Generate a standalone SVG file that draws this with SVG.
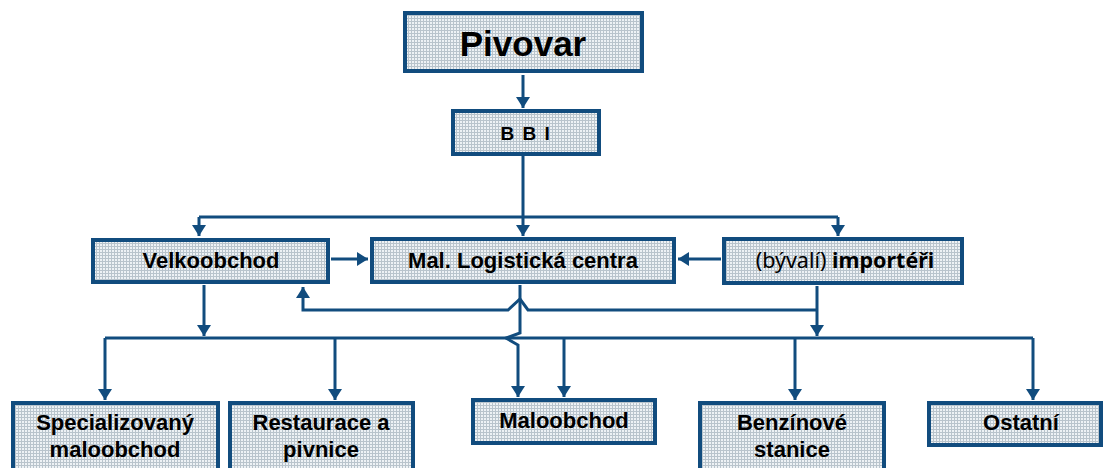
<svg xmlns="http://www.w3.org/2000/svg" width="1104" height="468" viewBox="0 0 1104 468">
<defs>
<pattern id="dots" width="3" height="3" patternUnits="userSpaceOnUse">
<rect width="3" height="3" fill="#eef2f5"/>
<rect width="3" height="1" fill="#b9c4cc"/>
<rect width="1" height="3" fill="#b9c4cc"/>
</pattern>
<marker id="arr" markerUnits="userSpaceOnUse" markerWidth="12" markerHeight="14" refX="11" refY="7" orient="auto">
<path d="M0,0 L11,7 L0,14 z" fill="#114c7e"/>
</marker>
</defs>
<style>
.box{fill:url(#dots);stroke:#114c7e;stroke-width:4}
.t{font-family:"Liberation Sans",Arial,sans-serif;font-weight:bold;fill:#000;text-anchor:middle;font-size:22px}
.c{fill:none;stroke:#114c7e;stroke-width:3}
.a{marker-end:url(#arr)}
</style>
<g id="connectors">
<path class="c a" d="M523,75 V108"/>
<path class="c" d="M523,156 V217 M199,217 H838"/>
<path class="c a" d="M199,217 V236"/>
<path class="c a" d="M523,217 V236"/>
<path class="c a" d="M838,217 V236"/>
<path class="c a" d="M331,259 H368"/>
<path class="c a" d="M721,259 H678"/>
<path class="c a" d="M204,285 V336"/>
<path class="c a" d="M817,286 V336"/>
<path class="c" d="M105,338 H1033"/>
<path class="c a" d="M105,338 V400"/>
<path class="c a" d="M335,338 V400"/>
<path class="c a" d="M795,338 V400"/>
<path class="c a" d="M1033,338 V400"/>
<path class="c a" d="M817,310 H528 L520,299 L508,310 H303 V287"/>
<path class="c a" d="M520,285 V333 L506,338 L518,345 V397"/>
<path class="c a" d="M564,338 V397"/>
</g>
<g id="pivovar"><rect class="box" x="405" y="13" width="237" height="58"/><text class="t" x="523" y="56" style="font-size:35px">Pivovar</text></g>
<g id="bbi"><rect class="box" x="453" y="111" width="146" height="43"/><text class="t" x="526" y="140" style="font-size:19px;letter-spacing:1.5px">B B I</text></g>
<g id="velkoobchod"><rect class="box" x="93" y="240" width="235" height="42"/><text class="t" x="211" y="268">Velkoobchod</text></g>
<g id="logisticka"><rect class="box" x="372" y="239" width="302" height="43"/><text class="t" x="523" y="268">Mal. Logistická centra</text></g>
<g id="importeri"><rect class="box" x="724" y="239" width="238" height="44"/><text x="845" y="268" text-anchor="middle" style="font-family:'Noto Sans','Open Sans',sans-serif;font-size:21.5px"><tspan>(bývalí) </tspan><tspan font-weight="bold">importéři</tspan></text></g>
<g id="specializovany"><rect class="box" x="13" y="403" width="205" height="70"/><text class="t" x="115" y="430">Specializovaný</text><text class="t" x="115" y="457">maloobchod</text></g>
<g id="restaurace"><rect class="box" x="230" y="403" width="183" height="70"/><text class="t" x="321" y="430">Restaurace a</text><text class="t" x="321" y="457">pivnice</text></g>
<g id="maloobchod"><rect class="box" x="473" y="400" width="182" height="43"/><text class="t" x="564" y="428">Maloobchod</text></g>
<g id="benzinove"><rect class="box" x="700" y="403" width="184" height="70"/><text class="t" x="792" y="430">Benzínové</text><text class="t" x="792" y="457">stanice</text></g>
<g id="ostatni"><rect class="box" x="929" y="403" width="172" height="42"/><text class="t" x="1021" y="430">Ostatní</text></g>
</svg>
